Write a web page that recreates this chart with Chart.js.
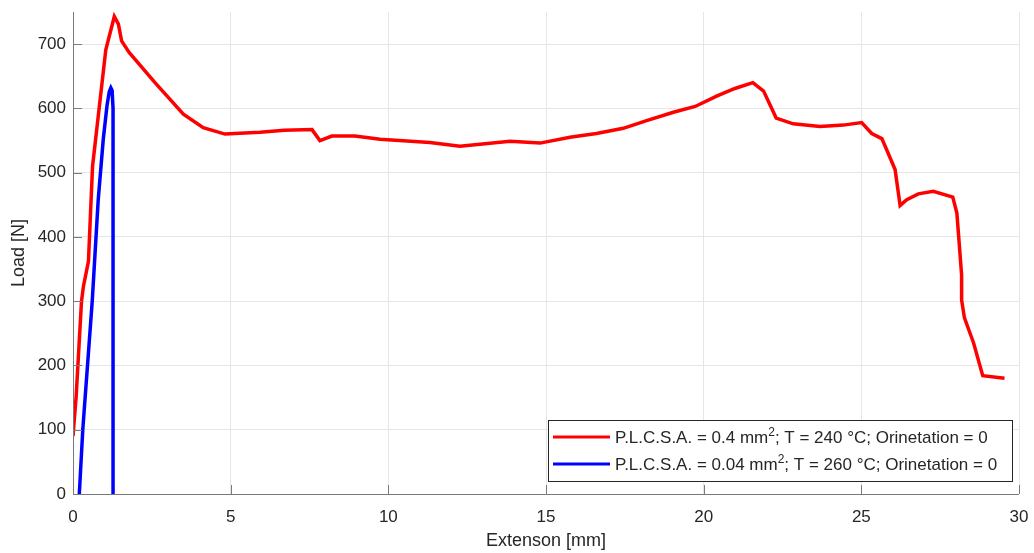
<!DOCTYPE html>
<html>
<head>
<meta charset="utf-8">
<script src="https://cdn.jsdelivr.net/npm/chart.js@4/dist/chart.umd.min.js"></script>
<style>
  html, body { margin: 0; padding: 0; background: #fff; }
  #wrap { width: 1034px; height: 553px; }
</style>
</head>
<body>
<div id="wrap"><canvas id="loadChart" width="1034" height="553"></canvas></div>
<script>
// data
const redX = [0.0, 0.1, 0.27, 0.33, 0.49, 0.62, 1.04, 1.31, 1.44, 1.54, 1.78, 2.6, 3.5, 4.13, 4.82, 5.93, 6.7, 7.58, 7.83, 8.21, 8.94, 9.74, 11.32, 12.27, 13.86, 14.81, 15.76, 16.6, 17.45, 18.19, 19.04, 19.73, 20.41, 20.99, 21.56, 21.9, 22.3, 22.84, 23.69, 24.43, 25.01, 25.33, 25.65, 25.8, 26.07, 26.23, 26.44, 26.81, 27.28, 27.9, 28.03, 28.18, 28.18, 28.27, 28.56, 28.85, 29.54];
const redY = [90, 152, 300, 323, 362, 510, 691, 743, 731, 705, 687, 640, 591, 570, 560, 563, 566, 567, 550, 557, 557, 552, 547, 541, 549, 546, 555, 561, 569, 581, 594, 603, 619, 631, 640, 627, 585, 576, 572, 574, 578, 561, 553, 536, 505, 449, 458, 467, 471, 462, 437, 341, 302, 274, 235, 184, 180];
const blueX = [0.2, 0.31, 0.61, 0.8, 0.96, 1.08, 1.15, 1.2, 1.24, 1.27, 1.27, 1.27];
const blueY = [0, 100, 300, 458, 552, 605, 626, 632, 628, 600, 300, 0];
const xTicks = [0, 5, 10, 15, 20, 25, 30];
const yTicks = [0, 100, 200, 300, 400, 500, 600, 700];
const seriesLabels = [
  'P.L.C.S.A. = 0.4 mm\u00b2; T = 240 \u00b0C; Orinetation = 0',
  'P.L.C.S.A. = 0.04 mm\u00b2; T = 260 \u00b0C; Orinetation = 0'
];

const toPoints = (xs, ys) => xs.map((x, i) => ({ x: x, y: ys[i] }));
const FONT = '"Liberation Sans", Arial, sans-serif';

// MATLAB-ish inward tick marks + legend box inside the plot
const matlabDecor = {
  id: 'matlabDecor',
  afterDatasetsDraw(chart) {
    const { ctx, chartArea: a, scales } = chart;
    ctx.save();
    ctx.strokeStyle = '#7a7a7a';
    ctx.lineWidth = 1;
    ctx.beginPath();
    ctx.moveTo(a.left + 0.5, a.top);
    ctx.lineTo(a.left + 0.5, a.bottom + 0.5);
    ctx.lineTo(a.right, a.bottom + 0.5);
    xTicks.forEach(v => {
      const px = Math.round(scales.x.getPixelForValue(v)) + 0.5;
      ctx.moveTo(px, a.bottom);
      ctx.lineTo(px, a.bottom - 9);
    });
    yTicks.forEach(v => {
      const py = Math.round(scales.y.getPixelForValue(v)) + 0.5;
      ctx.moveTo(a.left, py);
      ctx.lineTo(a.left + 9, py);
    });
    ctx.stroke();

    // legend
    const bx = 548, by = 420, bw = 464, bh = 61;
    ctx.fillStyle = '#fff';
    ctx.fillRect(bx, by, bw, bh);
    ctx.strokeStyle = '#262626';
    ctx.strokeRect(bx + 0.5, by + 0.5, bw, bh);
    chart.data.datasets.forEach((ds, i) => {
      const cy = 437 + i * 27;
      ctx.strokeStyle = ds.borderColor;
      ctx.lineWidth = 3;
      ctx.beginPath();
      ctx.moveTo(553, cy);
      ctx.lineTo(610, cy);
      ctx.stroke();
      ctx.fillStyle = '#262626';
      ctx.textBaseline = 'alphabetic';
      ctx.textAlign = 'left';
      const parts = ds.label.split('\u00b2');
      let tx = 615;
      const base = cy + 6;
      ctx.font = '17px ' + FONT;
      ctx.fillText(parts[0], tx, base);
      tx += ctx.measureText(parts[0]).width;
      ctx.font = '12px ' + FONT;
      ctx.fillText('2', tx, base - 7);
      tx += ctx.measureText('2').width;
      ctx.font = '17px ' + FONT;
      ctx.fillText(parts[1], tx, base);
    });
    ctx.restore();
  }
};

new Chart(document.getElementById('loadChart').getContext('2d'), {
  type: 'line',
  data: {
    datasets: [
      { label: seriesLabels[0], data: toPoints(redX, redY), borderColor: '#ff0000', borderWidth: 3.5, pointRadius: 0, tension: 0, fill: false },
      { label: seriesLabels[1], data: toPoints(blueX, blueY), borderColor: '#0000ff', borderWidth: 3.5, pointRadius: 0, tension: 0, fill: false }
    ]
  },
  options: {
    responsive: false,
    animation: false,
    layout: { padding: { left: 0, top: 12, right: 15, bottom: 0 } },
    plugins: { legend: { display: false }, tooltip: { enabled: false } },
    scales: {
      x: {
        type: 'linear', min: 0, max: 30,
        afterBuildTicks: s => { s.ticks = xTicks.map(v => ({ value: v })); },
        afterFit: s => { s.height = 59; s.paddingLeft = 0; s.paddingRight = 0; },
        grid: { color: '#e6e6e6', drawTicks: false },
        border: { display: false },
        ticks: { color: '#262626', padding: 13, font: { family: FONT, size: 17 } },
        title: { display: true, text: 'Extenson [mm]', color: '#262626', padding: { top: 2, bottom: 1 }, font: { family: FONT, size: 18 } }
      },
      y: {
        type: 'linear', min: 0, max: 750,
        afterBuildTicks: s => { s.ticks = yTicks.map(v => ({ value: v })); },
        afterFit: s => { s.width = 73; s.paddingTop = 0; s.paddingBottom = 0; },
        grid: { color: '#e6e6e6', drawTicks: false },
        border: { display: false },
        ticks: { color: '#262626', padding: 7, font: { family: FONT, size: 17 } },
        title: { display: true, text: 'Load [N]', color: '#262626', padding: { top: 8, bottom: 0 }, font: { family: FONT, size: 18 } }
      }
    }
  },
  plugins: [matlabDecor]
});
</script>
</body>
</html>
